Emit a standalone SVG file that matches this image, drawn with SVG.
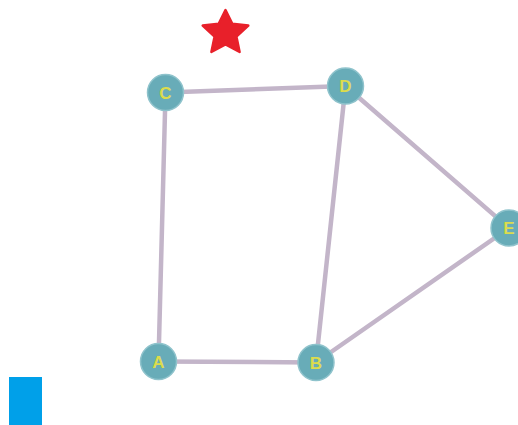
<svg xmlns="http://www.w3.org/2000/svg" width="518" height="425" viewBox="0 0 518 425">
<style>
.edge{stroke:#c3b5c9;stroke-width:4.5;fill:none;stroke-linecap:round}
.node circle{fill:#68acb8;stroke:#8fc3cc;stroke-width:1.5}
.node text{fill:#dcdc4c;font-family:"Liberation Sans",Arial,sans-serif;font-size:17px;font-weight:bold;text-anchor:middle;dominant-baseline:central}
</style>
<rect width="518" height="425" fill="#ffffff"/>
<g id="connectors">
<line class="edge" x1="165.5" y1="92.5" x2="345.5" y2="86"/>
<line class="edge" x1="165.5" y1="92.5" x2="158.5" y2="361.5"/>
<line class="edge" x1="345.5" y1="86" x2="316" y2="362.5"/>
<line class="edge" x1="345.5" y1="86" x2="509" y2="228"/>
<line class="edge" x1="509" y1="228" x2="316" y2="362.5"/>
<line class="edge" x1="158.5" y1="361.5" x2="316" y2="362.5"/>
</g>
<g id="node-C" class="node"><circle cx="165.5" cy="92.5" r="18"/><text x="165.5" y="93">C</text></g>
<g id="node-D" class="node"><circle cx="345.5" cy="86" r="18"/><text x="345.5" y="86.5">D</text></g>
<g id="node-E" class="node"><circle cx="509" cy="228" r="18"/><text x="509" y="228.5">E</text></g>
<g id="node-A" class="node"><circle cx="158.5" cy="361.5" r="18"/><text x="158.5" y="362">A</text></g>
<g id="node-B" class="node"><circle cx="316" cy="362.5" r="18"/><text x="316" y="363">B</text></g>
<g id="star"><polygon points="225.5,10 232.3,23.7 248.3,25.6 236.4,36.6 239.6,52 225.5,44.5 211.4,52 214.6,36.6 202.7,25.6 218.7,23.7" fill="#e8202a" stroke="#e8202a" stroke-width="2.5" stroke-linejoin="round"/></g>
<rect id="blue-block" x="9" y="377" width="33" height="48" fill="#00a0e9"/>
</svg>
